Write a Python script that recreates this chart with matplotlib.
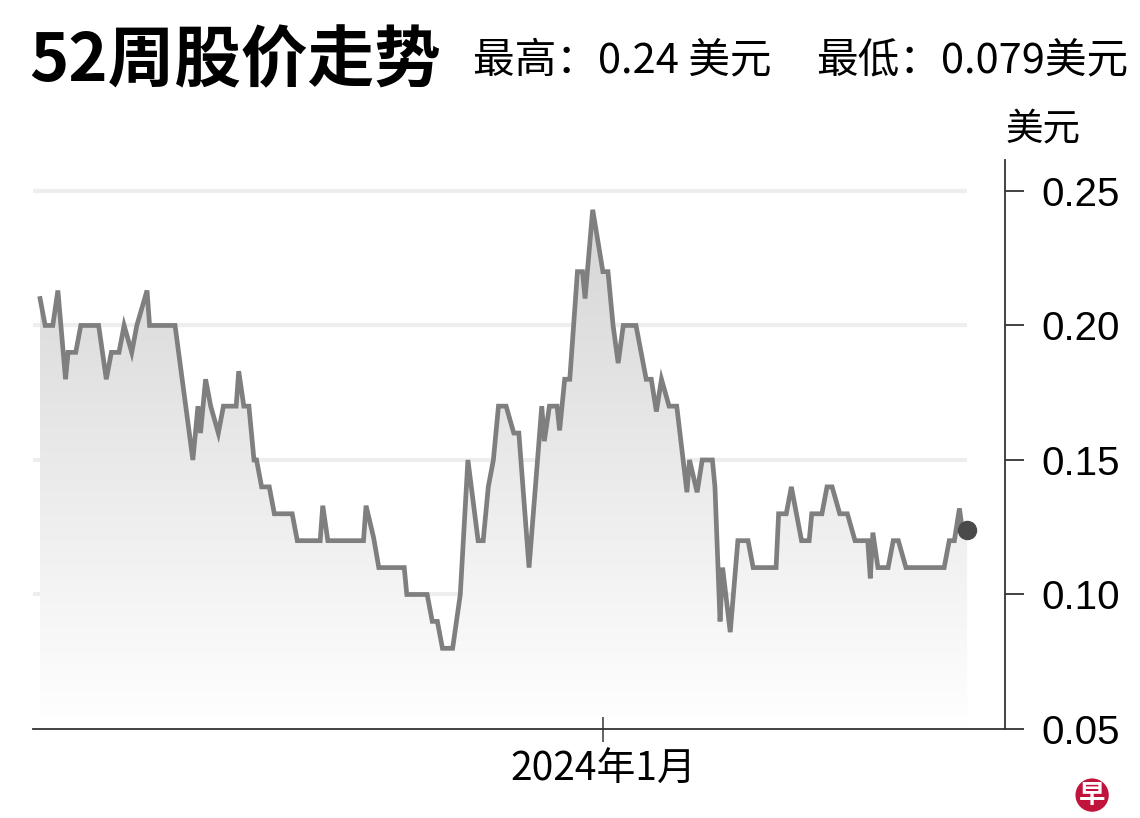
import numpy as np
import pandas as pd
import matplotlib
matplotlib.use("Agg")
import matplotlib.pyplot as plt
from matplotlib.colors import LinearSegmentedColormap

plt.rcParams['font.family'] = ['Noto Sans CJK SC', 'DejaVu Sans']

# 52-week closing prices (days after the start date, USD)
start_date = "2023-05-25"
day_offset = [
    0, 2, 5, 7, 10, 11, 14, 16, 23, 26, 28, 31, 33, 36, 38, 42, 43, 53,
    60, 62, 63, 65, 67, 70, 72, 77, 78, 80, 82, 84, 85, 87, 90, 92, 99,
    101, 110, 111, 113, 127, 128, 131, 133, 143, 144, 152, 154, 156, 158,
    162, 165, 168, 172, 174, 176, 178, 180, 183, 186, 188, 192, 197, 198,
    200, 203, 204, 206, 208, 211, 213, 214, 217, 221, 223, 225, 227, 229,
    234, 238, 240, 242, 244, 247, 250, 254, 255, 258, 260, 264, 265, 267,
    268, 271, 274, 278, 280, 289, 290, 293, 295, 299, 302, 303, 307, 309,
    311, 314, 317, 320, 325, 326, 327, 329, 333, 335, 337, 340, 355, 357,
    359, 361, 362, 364,
]
price = [
    0.21, 0.20, 0.20, 0.213, 0.18, 0.19, 0.19, 0.20, 0.20, 0.18, 0.19, 0.19,
    0.20, 0.19, 0.20, 0.213, 0.20, 0.20,
    0.15, 0.17, 0.16, 0.18, 0.17, 0.16, 0.17, 0.17, 0.183, 0.17, 0.17, 0.15,
    0.15, 0.14, 0.14, 0.13, 0.13,
    0.12, 0.12, 0.133, 0.12, 0.12, 0.133, 0.121, 0.11, 0.11, 0.10, 0.10,
    0.09, 0.09, 0.08,
    0.08, 0.10, 0.15, 0.12, 0.12, 0.14, 0.15, 0.17, 0.17, 0.16, 0.16, 0.11,
    0.17, 0.157,
    0.17, 0.17, 0.161, 0.18, 0.18, 0.22, 0.22, 0.21, 0.243, 0.22, 0.22, 0.20,
    0.186, 0.20,
    0.20, 0.18, 0.18, 0.168, 0.18, 0.17, 0.17, 0.138, 0.15, 0.138, 0.15,
    0.15, 0.14, 0.09,
    0.11, 0.086, 0.12, 0.12, 0.11, 0.11, 0.13, 0.13, 0.14, 0.12, 0.12, 0.13,
    0.13, 0.14,
    0.14, 0.13, 0.13, 0.12, 0.12, 0.106, 0.123, 0.11, 0.11, 0.12, 0.12, 0.11,
    0.11, 0.12,
    0.12, 0.132, 0.125, 0.124,
]
y_ticks = [0.05, 0.10, 0.15, 0.20, 0.25]
grid_levels = [0.10, 0.15, 0.20, 0.25]
x_tick_date = "2024-01-01"
x_tick_label = "2024年1月"
title = "52周股价走势"
high_text = "最高：0.24 美元"
low_text = "最低：0.079美元"
unit = "美元"

dates = pd.to_datetime(start_date) + pd.to_timedelta(day_offset, unit="D")
x = matplotlib.dates.date2num(dates)

fig = plt.figure(figsize=(11.4, 8.18), dpi=100)
ax = fig.add_axes([0.029, 0.1088, 0.8526, 0.6956])

x_min = x[0] - 2.75
x_max = x[0] + 378.9
y_min, y_max = 0.05, 0.2615

# light horizontal bands
ax.hlines(grid_levels, x_min, x[-1], color="#eeeeee", lw=3, zorder=0)

# gradient fill under the line
cmap = LinearSegmentedColormap.from_list("fade", ["#ffffff", "#d4d4d4"])
grad = np.linspace(0, 1, 256).reshape(-1, 1)
img = ax.imshow(grad, cmap=cmap, origin="lower", aspect="auto",
                extent=[x_min, x_max, y_min, 0.25], zorder=1)
poly = ax.fill_between(x, price, y_min, color="none", lw=0)
img.set_clip_path(poly.get_paths()[0], transform=ax.transData)

ax.plot(x, price, color="#7f7f7f", lw=3.4, solid_joinstyle="miter", zorder=3)
ax.plot(x[-1], price[-1], "o", color="#4a4a4a", ms=13, zorder=4)

ax.set_xlim(x_min, x_max)
ax.set_ylim(y_min, y_max)

ax.spines["top"].set_visible(False)
ax.spines["left"].set_visible(False)
for side in ["right", "bottom"]:
    ax.spines[side].set_color("#333333")
    ax.spines[side].set_linewidth(1.3)

ax.yaxis.tick_right()
ax.set_yticks(y_ticks)
ax.set_yticklabels([f"{v:.2f}" for v in y_ticks],
                   family=["Liberation Sans", "DejaVu Sans"], fontsize=29)
ax.tick_params(axis="y", length=14, width=1.3, color="#333333", pad=12)

ax.set_xticks([matplotlib.dates.date2num(pd.to_datetime(x_tick_date))])
ax.set_xticklabels([x_tick_label], fontsize=28)
ax.tick_params(axis="x", length=18, width=1.3, color="#555555",
               direction="inout", pad=6)

ax.text(1.0, 1.02, unit, transform=ax.transAxes, fontsize=27,
        ha="left", va="bottom")

fig.text(0.026, 0.925, title, fontsize=48, fontweight="black",
         ha="left", va="center")
fig.text(0.415, 0.925, high_text, fontsize=30, ha="left", va="center")
fig.text(0.716, 0.925, low_text, fontsize=30, ha="left", va="center")

# logo
fig.text(0.958, 0.028, "早", fontsize=19, fontweight="bold", color="white",
         ha="center", va="center",
         bbox=dict(boxstyle="circle,pad=0.12", fc="#c0143c", ec="none"))

fig.savefig("out.png", dpi=100)
